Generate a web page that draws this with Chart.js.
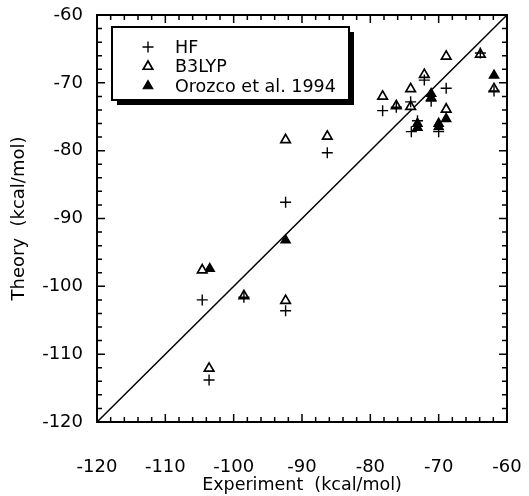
<!DOCTYPE html>
<html>
<head>
<meta charset="utf-8">
<script src="https://cdn.jsdelivr.net/npm/chart.js@4"></script>
<style>
  html, body { margin: 0; padding: 0; background: #fff; }
  #wrap { width: 529px; height: 496px; position: relative; }
</style>
</head>
<body>
<div id="wrap"><canvas id="c"></canvas></div>
<script>
// ---- data (kcal/mol) ----
const hfX = [-104.6, -103.6, -98.5, -92.4, -92.4, -86.3, -78.2, -76.2, -74.1, -72.1, -71.1, -70.0, -74.0, -73.1, -68.9, -63.9, -61.9];
const hfY = [-102.0, -113.8, -101.6, -87.6, -103.6, -80.3, -74.1, -73.6, -72.8, -69.6, -72.7, -77.2, -77.2, -75.6, -70.8, -65.6, -71.2];

const b3lypX = [-104.6, -103.6, -98.5, -92.4, -92.4, -86.3, -78.2, -76.2, -74.1, -74.1, -72.1, -68.9, -68.9, -63.9, -61.9];
const b3lypY = [-97.6, -112.1, -101.4, -78.4, -102.1, -77.9, -72.0, -73.4, -70.9, -73.5, -68.8, -66.1, -73.9, -65.8, -70.9];

const orozcoX = [-103.5, -92.4, -71.1, -71.1, -73.1, -73.1, -70.0, -70.0, -68.9, -61.9];
const orozcoY = [-97.4, -93.2, -71.6, -72.2, -76.0, -76.6, -76.0, -76.5, -75.3, -68.9];

const diagonal = [-120, -60];           // y = x reference line
const axisMin = -120, axisMax = -60, majorStep = 10, minorStep = 2;
const seriesNames = ['HF', 'B3LYP', 'Orozco et al. 1994'];
const xTitle = 'Experiment  (kcal/mol)';
const yTitle = 'Theory  (kcal/mol)';

const pts = (xs, ys) => xs.map((x, i) => ({ x, y: ys[i] }));
const FONT = "'DejaVu Sans', Verdana, sans-serif";

// frame + inward ticks on all four sides
const framePlugin = {
  id: 'frame',
  beforeDatasetsDraw(chart) {
    const { ctx, chartArea: a, scales: { x, y } } = chart;
    ctx.save();
    ctx.strokeStyle = '#000';
    ctx.lineWidth = 1.5;
    for (let v = axisMin; v <= axisMax + 1e-9; v += minorStep) {
      const major = Math.abs(v % majorStep) < 1e-9;
      const len = major ? 8 : 5;
      const px = x.getPixelForValue(v), py = y.getPixelForValue(v);
      ctx.beginPath();
      ctx.moveTo(px, a.bottom); ctx.lineTo(px, a.bottom - len);
      ctx.moveTo(px, a.top); ctx.lineTo(px, a.top + len);
      ctx.moveTo(a.left, py); ctx.lineTo(a.left + len, py);
      ctx.moveTo(a.right, py); ctx.lineTo(a.right - len, py);
      ctx.stroke();
    }
    ctx.lineWidth = 2;
    ctx.strokeRect(a.left, a.top, a.right - a.left, a.bottom - a.top);
    ctx.restore();
  }
};

// boxed legend with drop shadow inside the plot
const legendPlugin = {
  id: 'boxLegend',
  afterDatasetsDraw(chart) {
    const { ctx, chartArea: a } = chart;
    const bx = a.left + 15, by = a.top + 12, bw = 237, bh = 73, sh = 5;
    ctx.save();
    ctx.fillStyle = '#000';
    ctx.fillRect(bx + sh, by + sh, bw, bh);
    ctx.fillStyle = '#fff';
    ctx.fillRect(bx, by, bw, bh);
    ctx.strokeStyle = '#000';
    ctx.lineWidth = 2;
    ctx.strokeRect(bx, by, bw, bh);
    const ds = chart.data.datasets;
    [0, 1, 2].forEach((k, i) => {
      const d = ds[k];
      const cy = by + 20 + i * 19.5;
      const mx = bx + 36;
      ctx.fillStyle = d.backgroundColor;
      ctx.strokeStyle = d.borderColor;
      ctx.lineWidth = d.borderWidth;
      Chart.helpers.drawPoint(ctx, { pointStyle: d.pointStyle, radius: d.pointRadius, rotation: 0, borderWidth: d.borderWidth }, mx, cy);
      ctx.fillStyle = '#000';
      ctx.font = '17.5px ' + FONT;
      ctx.textBaseline = 'middle';
      ctx.textAlign = 'left';
      ctx.fillText(d.label, bx + 63, cy + 1);
    });
    ctx.restore();
  }
};

new Chart(document.getElementById('c'), {
  type: 'scatter',
  data: {
    datasets: [
      { label: seriesNames[0], data: pts(hfX, hfY), pointStyle: 'cross', pointRadius: 5.5,
        borderColor: '#000', backgroundColor: '#000', borderWidth: 1.4 },
      { label: seriesNames[1], data: pts(b3lypX, b3lypY), pointStyle: 'triangle', pointRadius: 5.5,
        borderColor: '#000', backgroundColor: '#fff', borderWidth: 1.7 },
      { label: seriesNames[2], data: pts(orozcoX, orozcoY), pointStyle: 'triangle', pointRadius: 5.5,
        borderColor: '#000', backgroundColor: '#000', borderWidth: 1.2 },
      { label: 'diag', data: pts(diagonal, diagonal), showLine: true, pointRadius: 0,
        borderColor: '#000', borderWidth: 1.5, fill: false }
    ]
  },
  options: {
    responsive: true,
    maintainAspectRatio: false,
    animation: false,
    events: [],
    layout: { padding: { left: 0, top: 15, right: 22, bottom: 0 } },
    plugins: { legend: { display: false }, tooltip: { enabled: false } },
    scales: {
      x: {
        type: 'linear', min: axisMin, max: axisMax,
        grid: { display: false, drawTicks: false },
        border: { display: false },
        ticks: { stepSize: majorStep, padding: 35, color: '#000', font: { family: FONT, size: 18 } },
        title: { display: true, text: xTitle, color: '#000', padding: { top: 0, bottom: 0 }, font: { family: FONT, size: 17.5 } },
        afterFit(s) { s.height = 74; s.paddingLeft = 0; s.paddingRight = 0; }
      },
      y: {
        type: 'linear', min: axisMin, max: axisMax,
        grid: { display: false, drawTicks: false },
        border: { display: false },
        ticks: { stepSize: majorStep, padding: 14, color: '#000', font: { family: FONT, size: 18 } },
        title: { display: true, text: yTitle, color: '#000', padding: { top: 9, bottom: 0 }, font: { family: FONT, size: 18 } },
        afterFit(s) { s.width = 97; s.paddingTop = 0; s.paddingBottom = 0; }
      }
    }
  },
  plugins: [framePlugin, legendPlugin]
});
</script>
</body>
</html>
